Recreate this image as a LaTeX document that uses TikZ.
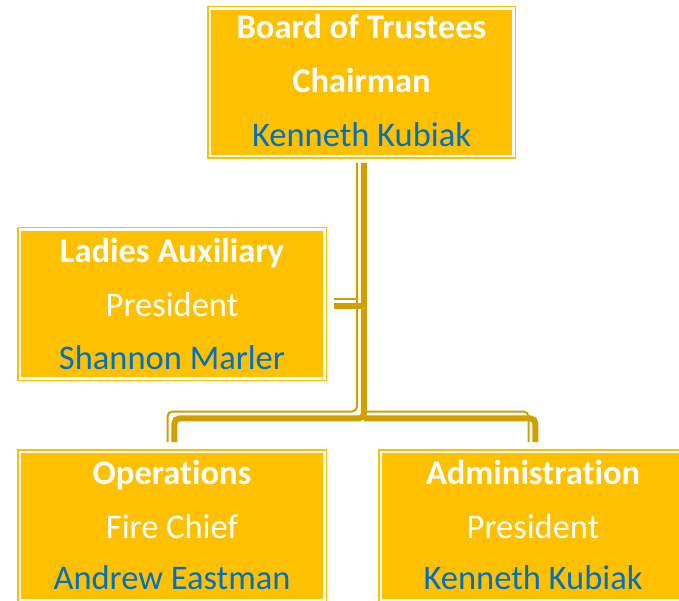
\documentclass[tikz,border=0pt]{standalone}
\usepackage{fontspec}
\setmainfont[Ligatures=NoCommon]{Carlito}
\usetikzlibrary{calc}
\definecolor{boxgold}{RGB}{255,192,0}
\definecolor{lngold}{RGB}{208,160,0}
\definecolor{nameblue}{RGB}{0,112,192}
\tikzset{
  orgbox/.style={rectangle, fill=boxgold, draw=boxgold, double=white,
    double distance=2.5pt, line width=1.5pt, inner sep=0pt, outer sep=0pt,
    minimum width=304.5pt, minimum height=148.5pt},
  hd/.style={font=\fontsize{34.5}{40}\selectfont\bfseries, text=white, inner sep=0pt, anchor=base},
  rl/.style={font=\fontsize{34.5}{40}\selectfont, text=white, inner sep=0pt, anchor=base},
  nm/.style={font=\fontsize{34.5}{40}\selectfont, text=nameblue, inner sep=0pt, anchor=base},
  thinln/.style={draw=lngold, line width=2pt, rounded corners=5pt},
  thickln/.style={draw=lngold, line width=6pt, rounded corners=5pt},
}
\begin{document}
\begin{tikzpicture}[x=1pt,y=1pt]
\useasboundingbox (0,0) rectangle (679,600);
\clip (0,0) rectangle (679,600);
% boxes
\node[orgbox, minimum width=303.5pt, minimum height=147.5pt] (top) at (361.5,517.5) {};
\node[orgbox] (ladies) at (172,296) {};
\node[orgbox] (ops) at (172,74) {};
\node[orgbox] (admin) at (533,74) {};
% texts
\node[hd] (t1) at (361.5,561) {Board of Trustees};
\node[hd] (t2) at (361.5,507) {Chairman};
\node[nm] (t3) at (361.5,453.5) {Kenneth Kubiak};
\node[hd] (l1) at (172,337.5) {Ladies Auxiliary};
\node[rl] (l2) at (172,283.5) {President};
\node[nm] (l3) at (172,230.5) {Shannon Marler};
\node[hd] (o1) at (172,115.5) {Operations};
\node[rl] (o2) at (172,61.5) {Fire Chief};
\node[nm] (o3) at (172,10.5) {Andrew Eastman};
\node[hd] (a1) at (533,115.5) {Administration};
\node[rl] (a2) at (533,61.5) {President};
\node[nm] (a3) at (533,10.5) {Kenneth Kubiak};
% connectors
\coordinate (bar) at (361,184);
% thin lines (up-left side)
\draw[thinln] ($(top.south)+(-4.5,-6.75)$) -- ($(top.south |- bar)+(-4.5,4.5)$)
  -- ($(ops.north |- bar)+(-4.5,4.5)$) -- ($(ops.north)+(-4.5,9.75)$);
\draw[thinln] ($(top.south |- bar)+(2.4,4.5)$)
  -- ($(admin.north |- bar)+(-4.5,4.5)$) -- ($(admin.north)+(-4.5,9.75)$);
\draw[thinln, rounded corners=0pt] ($(ladies.east)+(9.75,4.5)$) -- ($(top.south |- ladies.east)+(-4.5,4.5)$);
% thick lines (down-right side)
\draw[thickln] ($(top.south)+(2.4,-6.75)$) -- ($(top.south |- bar)+(2.4,-2.4)$)
  -- ($(ops.north |- bar)+(2.4,-2.4)$) -- ($(ops.north)+(2.4,9.75)$);
\draw[thickln] ($(top.south |- bar)+(2.4,-2.4)$)
  -- ($(admin.north |- bar)+(2.4,-2.4)$) -- ($(admin.north)+(2.4,9.75)$);
\draw[thickln, rounded corners=0pt] ($(ladies.east)+(9.75,-2.4)$) -- ($(top.south |- ladies.east)+(2.4,-2.4)$);
\end{tikzpicture}
\end{document}
